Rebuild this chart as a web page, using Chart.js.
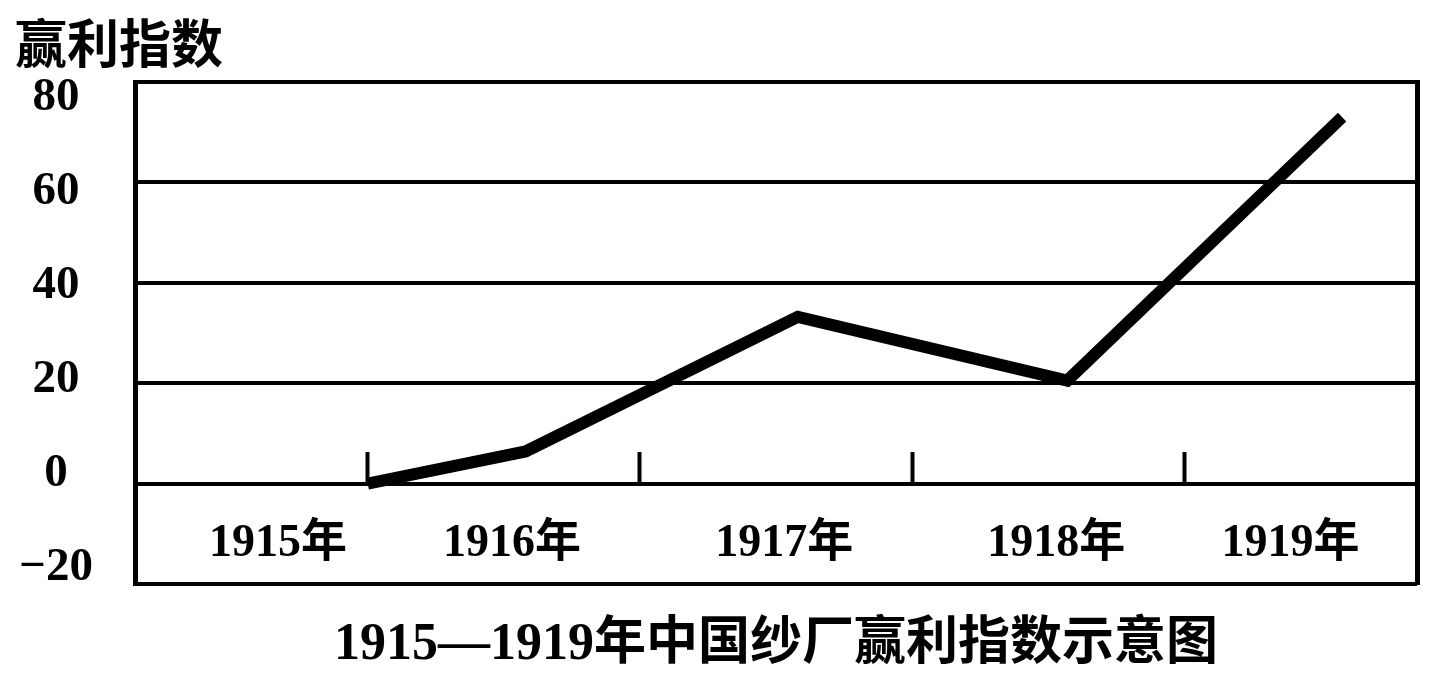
<!DOCTYPE html>
<html>
<head>
<meta charset="utf-8">
<script src="https://cdn.jsdelivr.net/npm/chart.js@4/dist/chart.umd.min.js"></script>
<style>
  html, body { margin: 0; padding: 0; background: #fff; }
  #wrap { width: 1446px; height: 692px; }
</style>
</head>
<body>
<div id="wrap"><canvas id="profitChart"></canvas></div>
<script>
const years = ['1915年', '1916年', '1917年', '1918年', '1919年'];
// position of each point along the year axis (0 = middle of the 1915 box)
const pointAt = [0.5, 1.08, 2.08, 3.07, 4.08];
const profitIndex = [0, 6.4, 33.2, 20.5, 73];
// the year labels in the original are not exactly centred in their boxes
const labelAt = [0.17, 1.03, 2.03, 3.03, 3.89];
const yTicks = [-20, 0, 20, 40, 60, 80];

const serif = '"Liberation Serif", "Noto Sans CJK SC", serif';
const black = '#000';

Chart.defaults.color = black;

new Chart(document.getElementById('profitChart'), {
    type: 'line',
    data: {
        datasets: [{
            label: '赢利指数',
            data: pointAt.map((x, i) => ({ x: x, y: profitIndex[i] })),
            borderColor: black,
            borderWidth: 12,
            borderJoinStyle: 'miter',
            pointRadius: 0,
            tension: 0,
            fill: false
        }]
    },
    options: {
        responsive: true,
        maintainAspectRatio: false,
        animation: false,
        layout: {
            padding: { left: 15, right: 29, top: 12, bottom: 15.6 }
        },
        scales: {
            // small tick marks between the years; the axis hangs just above
            // the zero line so its ticks (drawn downwards) end on it
            x: {
                type: 'linear',
                min: -0.355,
                max: 4.355,
                position: { y: 6.2 },
                afterBuildTicks: s => {
                    s.ticks = years.slice(1).map((c, i) => ({ value: i + 0.5 }));
                },
                ticks: { display: false },
                grid: {
                    drawOnChartArea: false,
                    drawTicks: true,
                    tickLength: 31,
                    tickWidth: 4,
                    tickColor: black
                },
                border: { display: false }
            },
            xLab: {
                axis: 'x',
                type: 'linear',
                min: -0.355,
                max: 4.355,
                position: { y: 0 },
                afterBuildTicks: s => {
                    s.ticks = labelAt.map(v => ({ value: v }));
                },
                ticks: {
                    padding: 25,
                    maxRotation: 0,
                    autoSkip: false,
                    font: { family: serif, size: 46, weight: 'bold' },
                    callback: (v, i) => years[i]
                },
                grid: { display: false },
                border: { display: false }
            },
            y: {
                min: -20,
                max: 80,
                weight: 0,
                ticks: { display: false, stepSize: 20 },
                grid: { color: black, lineWidth: 4, drawTicks: false },
                border: { color: black, width: 5 },
                afterFit: s => { s.width = 0; }
            },
            // labels of the value axis, spaced a little tighter than the grid as in the original
            yLab: {
                axis: 'y',
                type: 'linear',
                display: true,
                position: 'left',
                weight: 1,
                min: -23.4,
                max: 83.4,
                afterBuildTicks: s => {
                    s.ticks = yTicks.map(v => ({ value: v }));
                },
                afterFit: s => { s.width = 120; },
                ticks: {
                    padding: 34,
                    crossAlign: 'center',
                    font: { family: serif, size: 47, weight: 'bold' },
                    callback: v => v < 0 ? '\u2212' + (-v) : String(v)
                },
                grid: { display: false },
                border: { display: false }
            },
            y2: {
                axis: 'y',
                type: 'linear',
                display: true,
                position: 'right',
                ticks: { display: false },
                grid: { drawOnChartArea: false, drawTicks: false },
                border: { color: black, width: 5 }
            }
        },
        plugins: {
            legend: { display: false },
            tooltip: { enabled: false },
            subtitle: {
                display: true,
                position: 'top',
                align: 'start',
                text: '赢利指数',
                color: black,
                font: { family: '"Noto Sans CJK SC", sans-serif', size: 52, weight: 'bold' },
                padding: { top: 0, bottom: 7.6 }
            },
            title: {
                display: true,
                position: 'bottom',
                fullSize: false,
                text: '1915—1919年中国纱厂赢利指数示意图',
                color: black,
                font: { family: serif, size: 52, weight: 'bold' },
                padding: { top: 30, bottom: 0 }
            }
        }
    }
});
</script>
</body>
</html>
